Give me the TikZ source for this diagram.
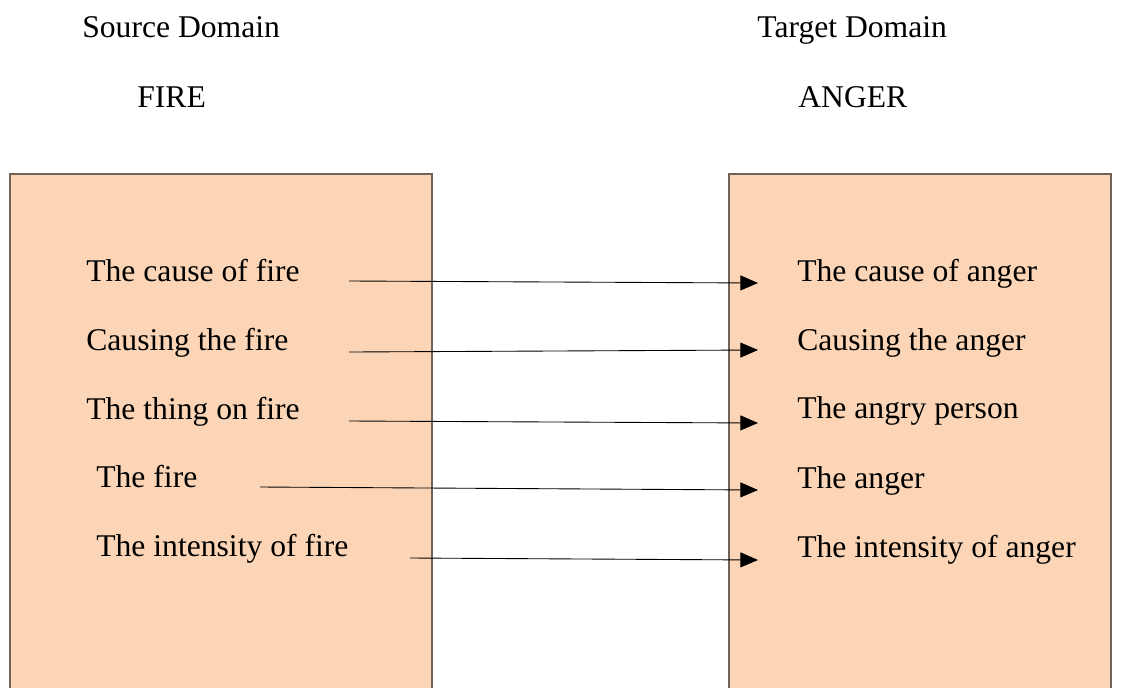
\documentclass[tikz,border=0pt]{standalone}
\usepackage{fontspec}
\setmainfont{Liberation Serif}
\usetikzlibrary{arrows.meta}
\definecolor{peach}{HTML}{FBD5B5}
\definecolor{boxline}{HTML}{6E6259}
\tikzset{
	domainbox/.style={draw=boxline, fill=peach, line width=0.6pt},
	lbl/.style={anchor=base west, inner sep=0pt, font=\fontsize{18}{22}\selectfont},
	map/.style={draw=black, line width=0.5pt, -{Triangle[length=10pt, width=8.5pt]}}
}
\begin{document}
\begin{tikzpicture}[x=0.02cm, y=-0.02cm]
	\useasboundingbox (0,0) rectangle (1125,687);
	\clip (0,0) rectangle (1125,687);

	\draw[domainbox] (10,174)  rectangle (432,700);
	\draw[domainbox] (729,174) rectangle (1111,700);

	\node[lbl] (src)   at (82,37)   {Source Domain};
	\node[lbl] (fire)  at (137,107) {FIRE};
	\node[lbl] (tgt)   at (757,37)  {Target Domain};
	\node[lbl] (anger) at (798,107) {ANGER};

	\node[lbl] (s1) at (86,281)  {The cause of fire};
	\node[lbl] (s2) at (86,350)  {Causing the fire};
	\node[lbl] (s3) at (86,419)  {The thing on fire};
	\node[lbl] (s4) at (96,487)  {The fire};
	\node[lbl] (s5) at (96,556)  {The intensity of fire};

	\node[lbl] (t1) at (797,281) {The cause of anger};
	\node[lbl] (t2) at (797,350) {Causing the anger};
	\node[lbl] (t3) at (797,418) {The angry person};
	\node[lbl] (t4) at (797,488) {The anger};
	\node[lbl] (t5) at (797,557) {The intensity of anger};

	\coordinate (a1) at (349,281);  \coordinate (b1) at (758,283);
	\coordinate (a2) at (349,352);  \coordinate (b2) at (758,350);
	\coordinate (a3) at (349,421);  \coordinate (b3) at (758,423);
	\coordinate (a4) at (260,487);  \coordinate (b4) at (758,490);
	\coordinate (a5) at (410,558);  \coordinate (b5) at (758,560);

	\path (a1) edge [map] (b1);
	\path (a2) edge [map] (b2);
	\path (a3) edge [map] (b3);
	\path (a4) edge [map] (b4);
	\path (a5) edge [map] (b5);
\end{tikzpicture}
\end{document}
